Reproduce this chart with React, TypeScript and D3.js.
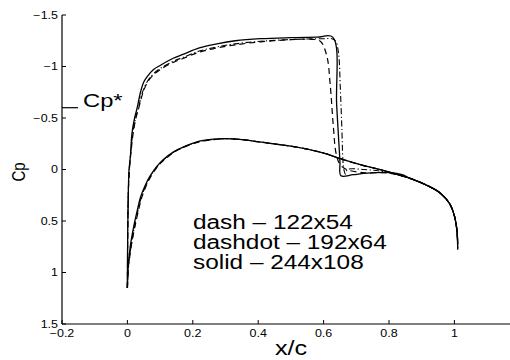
import React from "react";
import * as d3 from "d3";

type P = [number, number];

// x/c, Cp
const solidUpper: P[] = [
  [0.0, 1.15], [0.001, 0.6], [0.003, 0.2], [0.005, 0.0], [0.009, -0.12], [0.014, -0.35],
  [0.022, -0.5], [0.03, -0.6], [0.04, -0.75], [0.05, -0.85], [0.06, -0.9], [0.08, -0.97],
  [0.1, -1.01], [0.14, -1.08], [0.172, -1.12], [0.22, -1.18], [0.274, -1.22], [0.33, -1.25],
  [0.407, -1.27], [0.5, -1.28], [0.58, -1.285], [0.628, -1.285], [0.64, -0.62], [0.65, -0.08],
  [0.653, 0.06], [0.69, 0.05], [0.733, 0.035], [0.804, 0.03], [0.84, 0.05], [0.865, 0.087],
  [0.92, 0.16], [0.957, 0.23], [0.985, 0.33], [1.0, 0.45], [1.008, 0.6], [1.01, 0.72],
];
const solidLower: P[] = [
  [0.0, 1.15], [0.002, 0.95], [0.004, 0.88], [0.01, 0.72], [0.019, 0.56], [0.03, 0.4],
  [0.04, 0.27], [0.055, 0.15], [0.07, 0.06], [0.09, -0.03], [0.111, -0.1], [0.14, -0.17],
  [0.172, -0.22], [0.22, -0.275], [0.263, -0.295], [0.3, -0.3], [0.35, -0.29], [0.41, -0.265],
  [0.47, -0.24], [0.53, -0.21], [0.6, -0.16], [0.651, -0.105], [0.72, -0.04], [0.784, 0.01],
  [0.865, 0.087], [0.92, 0.16], [0.957, 0.23], [0.985, 0.33], [1.0, 0.45], [1.008, 0.6], [1.01, 0.78],
];
const dashUpper: P[] = [
  [0.0, 1.15], [0.001, 0.6], [0.003, 0.2], [0.006, 0.0], [0.012, -0.2], [0.018, -0.36],
  [0.026, -0.5], [0.035, -0.6], [0.045, -0.72], [0.06, -0.84], [0.08, -0.92], [0.1, -0.97],
  [0.14, -1.04], [0.172, -1.08], [0.22, -1.14], [0.274, -1.18], [0.33, -1.21], [0.407, -1.24],
  [0.5, -1.26], [0.56, -1.265], [0.59, -1.245], [0.61, -1.1], [0.62, -0.83], [0.63, -0.41],
  [0.638, -0.16], [0.65, -0.05], [0.67, 0.0], [0.72, 0.03], [0.8, 0.035], [0.865, 0.087],
  [0.92, 0.16], [0.957, 0.23], [0.985, 0.33], [1.0, 0.45], [1.008, 0.6], [1.01, 0.72],
];
const dashLower: P[] = [
  [0.0, 1.15], [0.003, 0.95], [0.007, 0.85], [0.014, 0.7], [0.024, 0.54], [0.035, 0.38],
  [0.045, 0.26], [0.06, 0.14], [0.075, 0.05], [0.095, -0.04], [0.115, -0.1], [0.144, -0.17],
  [0.175, -0.22], [0.222, -0.27], [0.265, -0.29], [0.3, -0.3], [0.35, -0.29], [0.41, -0.265],
  [0.47, -0.24], [0.53, -0.21], [0.6, -0.16], [0.651, -0.105], [0.72, -0.04], [0.784, 0.01],
  [0.865, 0.087], [0.92, 0.16], [0.957, 0.23], [0.985, 0.33], [1.0, 0.45], [1.008, 0.6], [1.01, 0.78],
];
const dashdotUpper: P[] = [
  [0.0, 1.15], [0.001, 0.6], [0.003, 0.2], [0.006, 0.0], [0.011, -0.2], [0.017, -0.36],
  [0.025, -0.5], [0.034, -0.6], [0.044, -0.73], [0.06, -0.85], [0.08, -0.93], [0.1, -0.98],
  [0.14, -1.05], [0.172, -1.09], [0.22, -1.15], [0.274, -1.19], [0.33, -1.22], [0.407, -1.245],
  [0.5, -1.262], [0.6, -1.27], [0.628, -1.268], [0.638, -1.24], [0.646, -1.12], [0.651, -0.8],
  [0.656, -0.38], [0.659, -0.09], [0.662, 0.0], [0.667, 0.045], [0.673, 0.0], [0.72, 0.0],
  [0.78, 0.02], [0.865, 0.087], [0.92, 0.16], [0.957, 0.23], [0.985, 0.33], [1.0, 0.45],
  [1.008, 0.6], [1.01, 0.72],
];
const dashdotLower: P[] = [
  [0.0, 1.15], [0.003, 0.95], [0.006, 0.86], [0.013, 0.71], [0.022, 0.55], [0.033, 0.39],
  [0.043, 0.265], [0.058, 0.145], [0.073, 0.055], [0.093, -0.035], [0.113, -0.1], [0.142, -0.17],
  [0.174, -0.22], [0.221, -0.272], [0.264, -0.292], [0.3, -0.3], [0.35, -0.29], [0.41, -0.265],
  [0.47, -0.24], [0.53, -0.21], [0.6, -0.16], [0.651, -0.105], [0.72, -0.04], [0.784, 0.01],
  [0.865, 0.087], [0.92, 0.16], [0.957, 0.23], [0.985, 0.33], [1.0, 0.45], [1.008, 0.6], [1.01, 0.78],
];

const xTicks = [-0.2, 0, 0.2, 0.4, 0.6, 0.8, 1];
const yTicks = [-1.5, -1, -0.5, 0, 0.5, 1, 1.5];
const cpStar = -0.6;
const legendLines = ["dash \u2013 122x54", "dashdot \u2013 192x64", "solid \u2013 244x108"];

const FONT = "'Liberation Sans', Arial, Helvetica, sans-serif";
const SX = 1.25;

function fmt(v: number): string {
  return v < 0 ? "\u2212" + String(Math.abs(v)).replace(/^0\./, "0.") : String(v);
}

export default function App() {
  const x = d3.scaleLinear().domain([-0.2, 1.2]).range([62, 519.8]);
  const y = d3.scaleLinear().domain([-1.5, 1.5]).range([15, 324]);
  const line = d3
    .line<P>()
    .x((d) => x(d[0]))
    .y((d) => y(d[1]))
    .curve(d3.curveCatmullRom.alpha(0.5));

  const series = [
    { data: [solidUpper, solidLower], dash: "none", w: 1.3 },
    { data: [dashUpper, dashLower], dash: "6,4", w: 1.2 },
    { data: [dashdotUpper, dashdotLower], dash: "6,2.5,1.2,2.5", w: 1.1 },
  ];

  const x0 = x(-0.2);
  const yB = y(1.5);

  return (
    <svg width={510} height={360} style={{ position: "absolute", left: 0, top: 0, background: "#fff" }}>
      <rect x={0} y={0} width={510} height={360} fill="#fff" />
      {/* curves */}
      {series.map((s, i) =>
        s.data.map((d, j) => (
          <path
            key={`${i}-${j}`}
            d={line(d) || ""}
            fill="none"
            stroke="#000"
            strokeWidth={s.w}
            strokeDasharray={s.dash}
            strokeLinejoin="round"
          />
        ))
      )}
      {/* axes */}
      <line x1={x0} y1={y(-1.5)} x2={x0} y2={yB} stroke="#000" strokeWidth={1.2} />
      <line x1={x0} y1={yB} x2={510} y2={yB} stroke="#000" strokeWidth={1.2} />
      {yTicks.map((t) => (
        <g key={"y" + t}>
          <line x1={x0} x2={x0 + 4} y1={y(t)} y2={y(t)} stroke="#000" strokeWidth={1} />
          <text
            transform={`translate(${x0 - 4},${y(t) + 3.5}) scale(${SX},1)`}
            textAnchor="end"
            fontFamily={FONT}
            fontSize={10}
            fill="#000"
          >
            {fmt(t)}
          </text>
        </g>
      ))}
      {xTicks.map((t) => (
        <g key={"x" + t}>
          <line x1={x(t)} x2={x(t)} y1={yB} y2={yB - 4} stroke="#000" strokeWidth={1} />
          <text
            transform={`translate(${x(t)},${yB + 13}) scale(${SX},1)`}
            textAnchor="middle"
            fontFamily={FONT}
            fontSize={10}
            fill="#000"
          >
            {fmt(t)}
          </text>
        </g>
      ))}
      {/* Cp* marker */}
      <line x1={x0} x2={x0 + 16} y1={y(cpStar)} y2={y(cpStar)} stroke="#000" strokeWidth={1.2} />
      <text
        transform={`translate(${x0 + 21},${y(cpStar) - 1}) scale(${SX},1)`}
        fontFamily={FONT}
        fontSize={19}
        fill="#000"
      >
        Cp*
      </text>
      {/* axis labels */}
      <text
        transform={`translate(25,172) scale(${SX},1) rotate(-90)`}
        textAnchor="middle"
        fontFamily={FONT}
        fontSize={15}
        fill="#000"
      >
        Cp
      </text>
      <text
        transform={`translate(291,355) scale(1.2,1)`}
        textAnchor="middle"
        fontFamily={FONT}
        fontSize={21}
        fill="#000"
      >
        x/c
      </text>
      {/* legend text */}
      {legendLines.map((s, i) => (
        <text
          key={s}
          transform={`translate(193,${229 + i * 20}) scale(${SX},1)`}
          fontFamily={FONT}
          fontSize={19.5}
          fill="#000"
        >
          {s}
        </text>
      ))}
    </svg>
  );
}
